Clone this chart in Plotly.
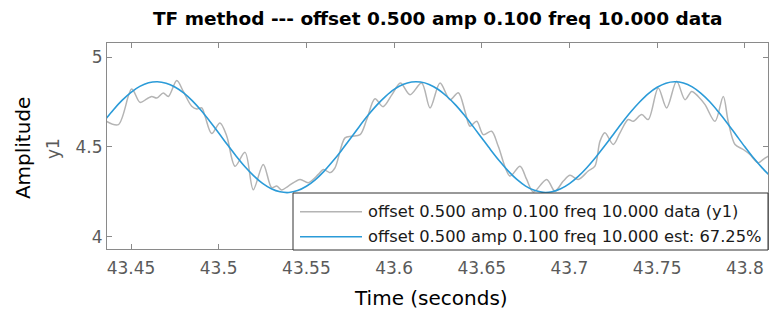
import plotly.graph_objects as go

# ---------------- data ----------------
title_text = "TF method --- offset 0.500 amp 0.100 freq 10.000 data"
name_data = "offset 0.500 amp 0.100 freq 10.000 data (y1)"
name_est = "offset 0.500 amp 0.100 freq 10.000 est: 67.25%"

x_tick_vals = [43.45, 43.5, 43.55, 43.6, 43.65, 43.7, 43.75, 43.8]
x_tick_text = ["43.45", "43.5", "43.55", "43.6", "43.65", "43.7", "43.75", "43.8"]
y_tick_vals = [4, 4.5, 5]
y_tick_text = ["4", "4.5", "5"]

# measured data (grey)
t_data = [43.4361, 43.4428, 43.4504, 43.4551, 43.4590, 43.4618, 43.4647, 43.4684,
          43.4713, 43.4761, 43.4798, 43.4846, 43.4875, 43.4903, 43.4922, 43.4960,
          43.5007, 43.5046, 43.5093, 43.5150, 43.5197, 43.5254, 43.5302, 43.5331,
          43.5359, 43.5397, 43.5464, 43.5511, 43.5568, 43.5596, 43.5635, 43.5663,
          43.5720, 43.5758, 43.5806, 43.5844, 43.5891, 43.5937, 43.5988, 43.6036,
          43.6091, 43.6157, 43.6205, 43.6262, 43.6319, 43.6366, 43.6405, 43.6433,
          43.6471, 43.6509, 43.6556, 43.6594, 43.6661, 43.6718, 43.6756, 43.6794,
          43.6870, 43.6917, 43.6965, 43.7003, 43.7050, 43.7107, 43.7145, 43.7174,
          43.7202, 43.7250, 43.7288, 43.7335, 43.7364, 43.7412, 43.7449, 43.7506,
          43.7554, 43.7611, 43.7659, 43.7697, 43.7734, 43.7773, 43.7830, 43.7877,
          43.7905, 43.7944, 43.7991, 43.8029, 43.8076, 43.8105, 43.8137]
y_data = [4.643, 4.625, 4.823, 4.749, 4.768, 4.782, 4.773, 4.801,
          4.782, 4.871, 4.810, 4.727, 4.712, 4.718, 4.671, 4.575,
          4.634, 4.560, 4.393, 4.470, 4.262, 4.403, 4.273, 4.282,
          4.260, 4.282, 4.319, 4.301, 4.347, 4.375, 4.357, 4.384,
          4.551, 4.560, 4.569, 4.653, 4.769, 4.725, 4.792, 4.857,
          4.792, 4.857, 4.718, 4.857, 4.764, 4.803, 4.697, 4.616,
          4.643, 4.569, 4.588, 4.504, 4.338, 4.393, 4.319, 4.249,
          4.319, 4.254, 4.310, 4.342, 4.319, 4.366, 4.393, 4.532,
          4.579, 4.514, 4.579, 4.653, 4.643, 4.681, 4.653, 4.829,
          4.718, 4.866, 4.764, 4.810, 4.782, 4.736, 4.643, 4.782,
          4.643, 4.514, 4.486, 4.458, 4.412, 4.431, 4.450]

# model estimate (blue)
t_est = [43.435, 43.440, 43.445, 43.450, 43.455, 43.460, 43.465, 43.470, 43.475, 43.480,
         43.485, 43.490, 43.495, 43.500, 43.505, 43.510, 43.515, 43.520, 43.525, 43.530,
         43.535, 43.540, 43.545, 43.550, 43.555, 43.560, 43.565, 43.570, 43.575, 43.580,
         43.585, 43.590, 43.595, 43.600, 43.605, 43.610, 43.615, 43.620, 43.625, 43.630,
         43.635, 43.640, 43.645, 43.650, 43.655, 43.660, 43.665, 43.670, 43.675, 43.680,
         43.685, 43.690, 43.695, 43.700, 43.705, 43.710, 43.715, 43.720, 43.725, 43.730,
         43.735, 43.740, 43.745, 43.750, 43.755, 43.760, 43.765, 43.770, 43.775, 43.780,
         43.785, 43.790, 43.795, 43.800, 43.805, 43.810, 43.815]
y_est = [4.648, 4.708, 4.761, 4.805, 4.838, 4.858, 4.864, 4.856, 4.835, 4.802,
         4.757, 4.703, 4.642, 4.578, 4.512, 4.449, 4.390, 4.339, 4.297, 4.267,
         4.250, 4.246, 4.257, 4.281, 4.317, 4.364, 4.420, 4.481, 4.546, 4.612,
         4.675, 4.732, 4.781, 4.821, 4.848, 4.862, 4.862, 4.849, 4.822, 4.783,
         4.735, 4.678, 4.615, 4.550, 4.485, 4.423, 4.367, 4.319, 4.282, 4.258,
         4.247, 4.250, 4.267, 4.296, 4.336, 4.386, 4.443, 4.505, 4.570, 4.635,
         4.696, 4.751, 4.798, 4.833, 4.856, 4.864, 4.857, 4.835, 4.799, 4.752,
         4.695, 4.633, 4.567, 4.501, 4.438, 4.382, 4.332]

x_range = [43.4363, 43.8132]
y_range = [3.931, 5.080]

# ---------------- figure ----------------
FONT = "DejaVu Sans"
TICK_COLOR = "#5a5a5a"
AXIS_COLOR = "#8a8a8a"
DATA_COLOR = "#b4b4b4"
EST_COLOR = "#2b9bd8"

fig = go.Figure()
fig.add_trace(go.Scatter(
    x=t_data, y=y_data, mode="lines", name=name_data, showlegend=False,
    line=dict(color=DATA_COLOR, width=1.5, shape="spline", smoothing=0.9)))
fig.add_trace(go.Scatter(
    x=t_est, y=y_est, mode="lines", name=name_est, showlegend=False,
    line=dict(color=EST_COLOR, width=1.6, shape="spline")))

axis_common = dict(
    showgrid=False, zeroline=False, showline=True, linecolor=AXIS_COLOR, linewidth=1,
    mirror="ticks", ticks="inside", ticklen=5, tickwidth=1, tickcolor=AXIS_COLOR,
    tickfont=dict(family=FONT, size=17, color=TICK_COLOR))

fig.update_xaxes(range=x_range, tickmode="array", tickvals=x_tick_vals,
                 ticktext=x_tick_text, ticklabelstandoff=4, **axis_common)
fig.update_yaxes(range=y_range, tickmode="array", tickvals=y_tick_vals,
                 ticktext=y_tick_text, **axis_common)

# legend box (south-east, inside the axes) in paper coordinates
PL, PW, PB, PH = 107, 661, 249, 206   # plot-area pixel geometry
def px_x(p):
    return (p - PL) / PW
def px_y(p):
    return (PB - p) / PH

leg_rows = [(211.7, name_data, DATA_COLOR), (236.7, name_est, EST_COLOR)]
shapes = [dict(type="rect", xref="paper", yref="paper", layer="above",
               x0=px_x(293), x1=px_x(768), y0=px_y(250), y1=px_y(193),
               fillcolor="white", line=dict(color="#333333", width=1))]
annotations = []
for row_y, label, col in leg_rows:
    shapes.append(dict(type="line", xref="paper", yref="paper", layer="above",
                       x0=px_x(300), x1=px_x(362), y0=px_y(row_y), y1=px_y(row_y),
                       line=dict(color=col, width=1.5)))
    annotations.append(dict(text=label, xref="paper", yref="paper",
                            x=px_x(366), y=px_y(row_y), xanchor="left", yanchor="middle",
                            showarrow=False,
                            font=dict(family=FONT, size=16.3, color="#1a1a1a")))

annotations += [
    dict(text="<b>" + title_text + "</b>", xref="paper", yref="paper",
         x=0.5, y=1.121, xanchor="center", yanchor="middle", showarrow=False,
         font=dict(family=FONT, size=18.5, color="black")),
    dict(text="Amplitude", xref="paper", yref="paper", x=-0.127, y=0.49,
         xanchor="center", yanchor="middle", textangle=-90, showarrow=False,
         font=dict(family=FONT, size=20, color="black")),
    dict(text="y1", xref="paper", yref="paper", x=-0.0817, y=0.49,
         xanchor="center", yanchor="middle", textangle=-90, showarrow=False,
         font=dict(family=FONT, size=17, color=TICK_COLOR)),
    dict(text="Time (seconds)", xref="paper", yref="paper", x=0.49, y=-0.238,
         xanchor="center", yanchor="middle", showarrow=False,
         font=dict(family=FONT, size=20, color="black")),
]

fig.update_layout(
    width=769, height=320,
    margin=dict(l=107, r=1, t=43, b=71, pad=0),
    paper_bgcolor="white", plot_bgcolor="white",
    showlegend=False,
    shapes=shapes,
    annotations=annotations,
)

fig.write_html("out.html")
